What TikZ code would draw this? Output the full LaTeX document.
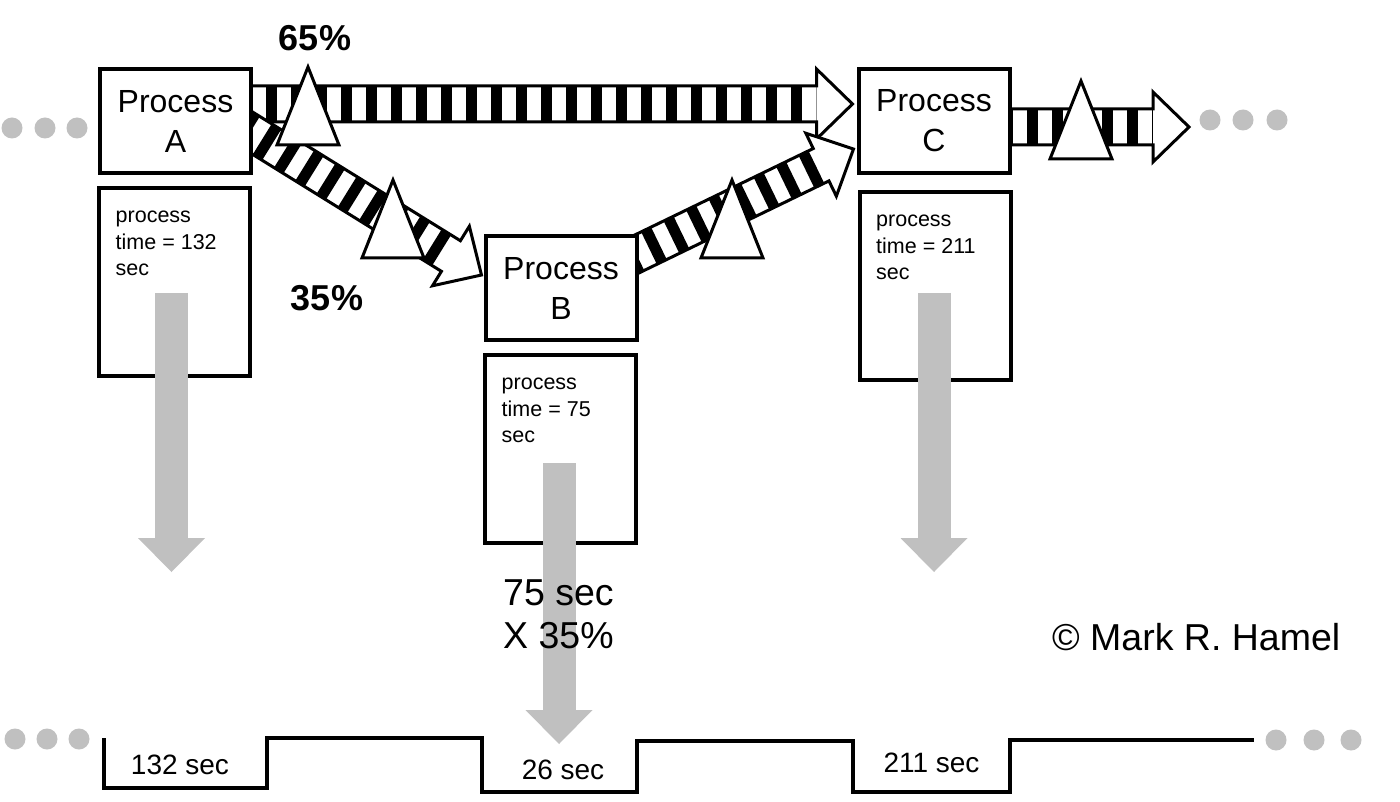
\documentclass[tikz,border=0pt]{standalone}
\usepackage{fontspec}
\setmainfont{Liberation Sans}
\usetikzlibrary{calc,arrows.meta,backgrounds}

\definecolor{dotgray}{HTML}{C0C0C0}

\newcommand{\stripearrow}[2]{%
  \path let \p1=($(#2)-(#1)$) in
    \pgfextra{\pgfmathsetmacro{\arrang}{atan2(\y1,\x1)}\xdef\arrang{\arrang}%
      \pgfmathsetmacro{\arrlen}{veclen(\x1,\y1)}\xdef\arrlen{\arrlen}};
  \begin{scope}[shift={(#1)}, rotate=\arrang]
    \pgfmathsetmacro{\shaftend}{\arrlen-36}
    \fill[white] (0,-18) rectangle (\shaftend,18);
    \begin{scope}
      \clip (0,-18) rectangle (\shaftend,18);
      \foreach \s in {0,25,...,\shaftend}
        \fill (\s,-18) rectangle ++(11,36);
    \end{scope}
    \fill[white] (\shaftend,-35) -- (\arrlen,0) -- (\shaftend,35) -- cycle;
    \draw[stripe] (0,-18) -- (\shaftend,-18) -- (\shaftend,-35) -- (\arrlen,0)
      -- (\shaftend,35) -- (\shaftend,18) -- (0,18) -- cycle;
  \end{scope}}

\begin{document}
\begin{tikzpicture}
  [x=1pt,y=-1pt,
   proc/.style={draw,line width=4pt,fill=white,minimum width=151pt,minimum height=104pt,
     inner sep=0pt,align=center,font=\fontsize{32}{40}\selectfont},
   detail/.style={draw,line width=4pt,fill=white,minimum width=151pt,minimum height=188pt,inner sep=0pt},
   note/.style={anchor=north west,inner sep=0pt,align=left,font=\fontsize{21.5}{26.5}\selectfont},
   stripe/.style={line width=3pt,line join=miter},
   flow/.style={draw=dotgray,line width=33pt,-{Triangle[width=67pt,length=34pt,line width=0pt 0 0]}}]
  \tikzstyle{inv} = [draw,line width=3pt,fill=white,line join=miter]
  \tikzstyle{share} = [inner sep=0pt,font=\bfseries\fontsize{36}{40}\selectfont]
  \tikzstyle{secs} = [inner sep=0pt,font=\fontsize{28}{32}\selectfont]
  \tikzstyle{big} = [inner sep=0pt,font=\fontsize{37.5}{43}\selectfont]
  \useasboundingbox (0,0) rectangle (1400,802);

  \node[proc] (pA) at (175.5,121) {Process\\A};
  \node[proc] (pB) at (561,288) {Process\\B};
  \node[proc] (pC) at (934,121) {Process\\C};
  \node[detail] (dA) at (174.5,282) {};
  \node[detail] (dB) at (560.5,449) {};
  \node[detail] (dC) at (935,286) {};
  \node[note] (nA) at ([shift={(18.5,25)}]dA.north west) {process\\time = 132\\sec};
  \node[note] (nB) at ([shift={(18.5,25)}]dB.north west) {process\\time = 75\\sec};
  \node[note] (nC) at ([shift={(18.5,25)}]dC.north west) {process\\time = 211\\sec};

  \coordinate (mA) at ([shift={(-12,-17)}]pA.east);
  \coordinate (mC) at ([shift={(-4,-17)}]pC.west);
  \coordinate (aB) at ([shift={(-12,5)}]pA.east);
  \coordinate (bA) at ([shift={(-2,-13)}]pB.west);
  \coordinate (bC) at ([shift={(-12,-29)}]pB.east);
  \coordinate (cB) at ([shift={(-3,28)}]pC.west);
  \coordinate (cS) at ([shift={(-10,6)}]pC.east);
  \coordinate (cOut) at (1189,127);

  \begin{scope}[on background layer]
    \fill[white] (0,0) rectangle (1400,802);
    \stripearrow{mA}{mC}
    \stripearrow{aB}{bA}
    \stripearrow{bC}{cB}
    \stripearrow{cS}{cOut}
  \end{scope}

  \foreach \tx/\ty in {308/106,393/219,732/219,1081/120}
    \draw[inv] (\tx,\ty) +(0,-39) -- +(31,39) -- +(-31,39) -- cycle;

  \node[share] (s65) at (315,38) {65\%};
  \node[share] (s35) at (327,298) {35\%};

  \coordinate (gA1) at (171.5,293);
  \coordinate (gA2) at (171.5,572);
  \coordinate (gB1) at (559,463);
  \coordinate (gB2) at (559,744);
  \coordinate (gC1) at (934,293);
  \coordinate (gC2) at (934,572);
  \foreach \a/\b in {gA1/gA2,gB1/gB2,gC1/gC2}
    \draw[flow] (\a) -- (\b);

  \node[big,anchor=west,align=left] (mult) at (503,614.5) {75 sec\\X 35\%};
  \node[big,anchor=west] (copy) at (1052,637) {© Mark R. Hamel};

  \foreach \x/\y in {12/128,45/128,77/128,1210/120,1243/120,1277/120,
                     15/739,47/739,79/739,1276/740,1314/740,1351/740}
    \fill[dotgray] (\x,\y) circle[radius=10.5];

  \draw[line width=4pt,line join=miter] (104,738) -- (104,788) -- (267,788) -- (267,738)
    -- (482,738) -- (482,792) -- (637,792) -- (637,741) -- (853,741) -- (853,792)
    -- (1010,792) -- (1010,740) -- (1254,740);
  \node[secs] (tA) at (180,765) {132 sec};
  \node[secs] (tB) at (563,770) {26 sec};
  \node[secs] (tC) at (931.5,763) {211 sec};
\end{tikzpicture}
\end{document}
